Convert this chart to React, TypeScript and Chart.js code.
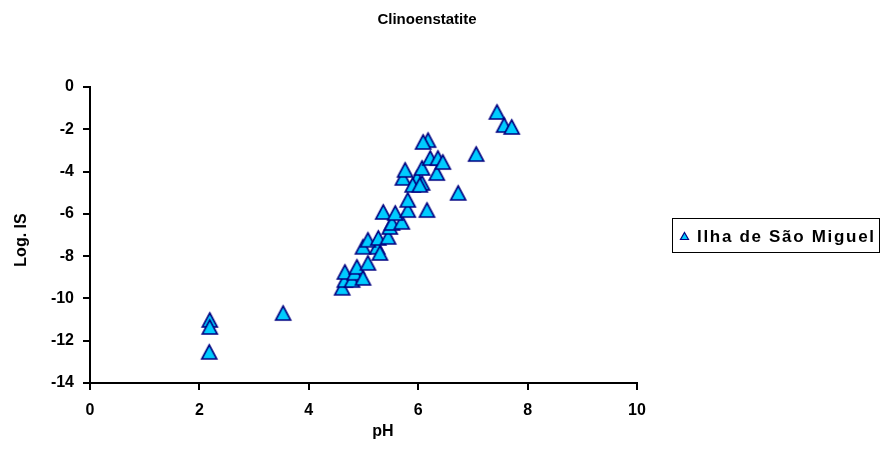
import React, { useEffect, useRef } from "react";
import { Chart, registerables } from "chart.js";
Chart.register(...registerables);

const chartTitle = "Clinoenstatite";
const xAxisTitle = "pH";
const yAxisTitle = "Log. IS";
const seriesName = "Ilha de São Miguel";

const pH = [
  2.19, 2.19, 2.18, 3.53, 4.61, 4.66, 4.66, 4.79, 4.84, 4.88, 4.99, 5.08,
  4.99, 5.25, 5.3, 5.08, 5.27, 5.45, 5.48, 5.52, 5.7, 5.36, 5.58, 5.81,
  6.16, 5.81, 6.73, 5.72, 5.98, 6.07, 5.76, 6.07, 6.34, 6.22, 6.36, 6.45,
  6.18, 6.09, 7.06, 7.44, 7.57, 7.71, 5.9, 6.03,
];
const logIS = [
  -11.02, -11.35, -12.53, -10.69, -9.5, -9.13, -8.75, -9.13, -8.79, -8.51, -9.03, -8.32,
  -7.56, -7.56, -7.85, -7.23, -7.14, -7.09, -6.62, -6.43, -6.38, -5.91, -5.96, -5.82,
  -5.82, -5.34, -5.01, -4.3, -4.3, -4.54, -3.92, -3.83, -4.07, -3.36, -3.36, -3.55,
  -2.51, -2.6, -3.17, -1.18, -1.8, -1.89, -4.63, -4.63,
];
const xTicks = [0, 2, 4, 6, 8, 10];
const yTicks = [0, -2, -4, -6, -8, -10, -12, -14];

const FONT = "'Liberation Sans', Arial, sans-serif";
const FILL = "#00CCFF";
const EDGE = "#000080";

function makeTriangle(w: number, h: number, lw: number): HTMLCanvasElement {
  const cv = document.createElement("canvas");
  const pad = lw + 1;
  cv.width = Math.ceil(w + pad * 2);
  cv.height = Math.ceil(h + pad * 2);
  const c = cv.getContext("2d")!;
  const cx = cv.width / 2;
  const cy = cv.height / 2;
  c.beginPath();
  c.moveTo(cx, cy - h / 2);
  c.lineTo(cx + w / 2, cy + h / 2);
  c.lineTo(cx - w / 2, cy + h / 2);
  c.closePath();
  c.fillStyle = FILL;
  c.fill();
  c.strokeStyle = EDGE;
  c.lineWidth = lw;
  c.lineJoin = "miter";
  c.stroke();
  return cv;
}

export default function App() {
  const ref = useRef<HTMLCanvasElement>(null);
  useEffect(() => {
    document.body.style.margin = "0";
    const canvas = ref.current!;
    const marker = makeTriangle(15, 14, 1.6);
    const legendMarker = makeTriangle(8, 7, 1.2);
    const overlay = {
      id: "overlay",
      afterDraw(chart: any) {
        const c = chart.ctx as CanvasRenderingContext2D;
        c.save();
        c.fillStyle = "#000";
        c.textBaseline = "middle";
        c.textAlign = "center";
        c.font = `bold 15px ${FONT}`;
        c.fillText(chartTitle, 427, 20);
        c.font = `bold 16px ${FONT}`;
        c.fillText(xAxisTitle, 383, 432);
        c.save();
        c.translate(22, 240);
        c.rotate(-Math.PI / 2);
        c.fillText(yAxisTitle, 0, 0);
        c.restore();
        // legend
        c.strokeStyle = "#000";
        c.lineWidth = 1;
        c.strokeRect(672.5, 218.5, 207, 34);
        c.drawImage(
          legendMarker,
          Math.round(684 - legendMarker.width / 2),
          Math.round(236 - legendMarker.height / 2)
        );
        c.fillStyle = "#000";
        c.textAlign = "left";
        c.font = `bold 17px ${FONT}`;
        const w = c.measureText(seriesName).width;
        const target = 177;
        (c as any).letterSpacing = `${Math.max(0, (target - w) / (seriesName.length - 1))}px`;
        c.fillText(seriesName, 697, 237);
        c.restore();
      },
    };
    const chart = new Chart(canvas, {
      type: "scatter",
      data: {
        datasets: [
          {
            label: seriesName,
            data: pH.map((x, i) => ({ x, y: logIS[i] })),
            pointStyle: marker,
            radius: 8,
            hoverRadius: 8,
          },
        ],
      },
      options: {
        responsive: false,
        animation: false,
        devicePixelRatio: 1,
        layout: { padding: { top: 87, right: 247, left: 0, bottom: 0 } },
        plugins: {
          legend: { display: false },
          title: { display: false },
          tooltip: { enabled: false },
        },
        scales: {
          x: {
            type: "linear",
            min: 0,
            max: 10,
            afterFit: (s: any) => {
              s.height = 66;
            },
            afterBuildTicks: (s: any) => {
              s.ticks = xTicks.map((v) => ({ value: v }));
            },
            grid: {
              display: true,
              drawOnChartArea: false,
              drawTicks: true,
              tickLength: 7,
              color: "#000",
              lineWidth: 2,
            },
            border: { display: true, color: "#000", width: 2 },
            ticks: {
              color: "#000",
              font: { family: FONT, size: 16, weight: "bold" },
              padding: 11,
              maxRotation: 0,
            },
          },
          y: {
            type: "linear",
            min: -14,
            max: 0,
            afterFit: (s: any) => {
              s.width = 90;
            },
            afterBuildTicks: (s: any) => {
              s.ticks = yTicks.map((v) => ({ value: v }));
            },
            grid: {
              display: true,
              drawOnChartArea: false,
              drawTicks: true,
              tickLength: 7,
              color: "#000",
              lineWidth: 2,
            },
            border: { display: true, color: "#000", width: 2 },
            ticks: {
              color: "#000",
              font: { family: FONT, size: 16, weight: "bold" },
              padding: 9,
            },
          },
        },
      },
      plugins: [overlay],
    });
    return () => chart.destroy();
  }, []);
  return (
    <canvas
      ref={ref}
      width={884}
      height={449}
      style={{ display: "block", width: 884, height: 449 }}
    />
  );
}
